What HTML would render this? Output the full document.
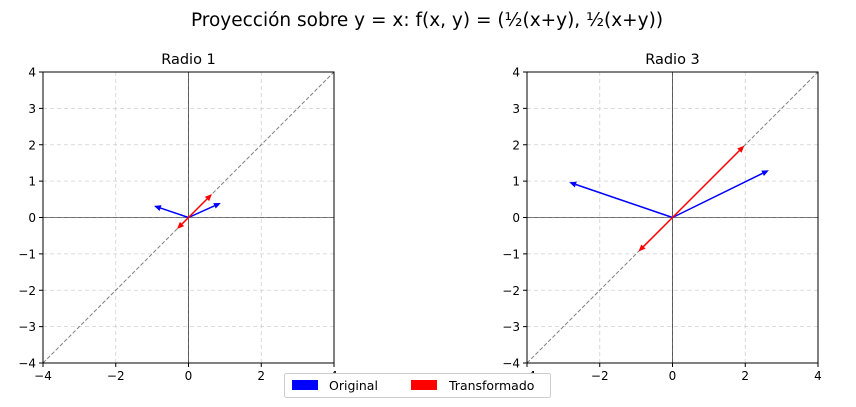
<!DOCTYPE html>
<html><head><meta charset="utf-8"><style>
body{margin:0;background:#fff;width:856px;height:403px;overflow:hidden;font-family:"DejaVu Sans","Liberation Sans",sans-serif}
</style></head><body>
<svg id="chart" width="856" height="403" xmlns="http://www.w3.org/2000/svg" font-family="DejaVu Sans, Liberation Sans, sans-serif">
<text x="427" y="26" text-anchor="middle" font-size="18.5">Proyección sobre y = x: f(x, y) = (½(x+y), ½(x+y))</text>
<g id="panels"></g>
<g>
<rect x="284.5" y="373.5" width="266" height="24" fill="#fff" stroke="#ccc" rx="2"/>
<rect x="292" y="380" width="26" height="10" fill="#0000ff"/>
<text x="329" y="390" font-size="12.5">Original</text>
<rect x="411" y="380" width="26" height="10" fill="#ff0000"/>
<text x="449" y="390" font-size="12.5">Transformado</text>
</g>
</svg>
<script>
const panelTitles = ["Radio 1", "Radio 3"];
const originalX = [[0.89, -0.95], [2.65, -2.84]];
const originalY = [[0.40, 0.32], [1.30, 0.97]];
const transformedX = [[0.645, -0.315], [1.975, -0.935]];
const transformedY = [[0.645, -0.315], [1.975, -0.935]];
const ticks = [-4, -3, -2, -1, 0, 1, 2, 3, 4];
const xTicks = [-4, -2, 0, 2, 4];
const NS = "http://www.w3.org/2000/svg";
const panelsG = document.getElementById("panels");
const lefts = [43, 527], plotTop = 72, size = 291;
function mk(tag, attrs, parent){const e=document.createElementNS(NS,tag);for(const k in attrs)e.setAttribute(k,attrs[k]);parent.appendChild(e);return e;}
function fmt(v){return v<0?"\u2212"+(-v):String(v);}
lefts.forEach((L, p) => {
  const sx = v => L + (v + 4) / 8 * size;
  const sy = v => plotTop + (4 - v) / 8 * size;
  const g = mk("g", {}, panelsG);
  
  
  ticks.forEach(t => {
    if (xTicks.includes(t)) mk("line",{x1:sx(t),x2:sx(t),y1:plotTop,y2:plotTop+size,stroke:"#d0d0d0","stroke-dasharray":"4,3","stroke-width":0.8},g);
    mk("line",{x1:L,x2:L+size,y1:sy(t),y2:sy(t),stroke:"#d0d0d0","stroke-dasharray":"4,3","stroke-width":0.8},g);
  });
  mk("line",{x1:sx(0),x2:sx(0),y1:plotTop,y2:plotTop+size,stroke:"#000","stroke-width":0.6},g);
  mk("line",{x1:L,x2:L+size,y1:sy(0),y2:sy(0),stroke:"#000","stroke-width":0.6},g);
  const diag = mk("line",{x1:sx(-4),y1:sy(-4),x2:sx(4),y2:sy(4),stroke:"#808080","stroke-dasharray":"4,2","stroke-width":1},g);
  
  
  function arrow(x, y, color, name){
    const x0=sx(0),y0=sy(0),x1=sx(x),y1=sy(y);
    const a=Math.atan2(y1-y0,x1-x0), hl=7, hw=3;
    const bx=x1-hl*Math.cos(a), by=y1-hl*Math.sin(a);
    const ag = mk("g",{},g);
    
    
    mk("line",{x1:x0,y1:y0,x2:bx,y2:by,stroke:color,"stroke-width":1.5},ag);
    const px=-Math.sin(a)*hw, py=Math.cos(a)*hw;
    mk("polygon",{points:`${x1},${y1} ${bx+px},${by+py} ${bx-px},${by-py}`,fill:color},ag);
  }
  originalX[p].forEach((x,i)=>arrow(x, originalY[p][i], "#0000ff", "original-vector-"+(i+1)));
  transformedX[p].forEach((x,i)=>arrow(x, transformedY[p][i], "#ff0000", "transformed-vector-"+(i+1)));
  mk("rect",{x:L,y:plotTop,width:size,height:size,fill:"none",stroke:"#000","stroke-width":1},g);
  ticks.forEach(t => {
    mk("line",{x1:L-4,x2:L,y1:sy(t),y2:sy(t),stroke:"#000"},g);
    const lb = mk("text",{x:L-7,y:sy(t)+4.5,"text-anchor":"end","font-size":12},g);
    lb.textContent = fmt(t);
    
    
  });
  xTicks.forEach(t => {
    mk("line",{x1:sx(t),x2:sx(t),y1:plotTop+size,y2:plotTop+size+4,stroke:"#000"},g);
    const lb = mk("text",{x:sx(t),y:plotTop+size+17,"text-anchor":"middle","font-size":12},g);
    lb.textContent = fmt(t);
    
    
  });
  const tt = mk("text",{x:L+size/2,y:plotTop-8,"text-anchor":"middle","font-size":14.5},g);
  tt.textContent = panelTitles[p];
  
  
});
</script>
</body></html>
